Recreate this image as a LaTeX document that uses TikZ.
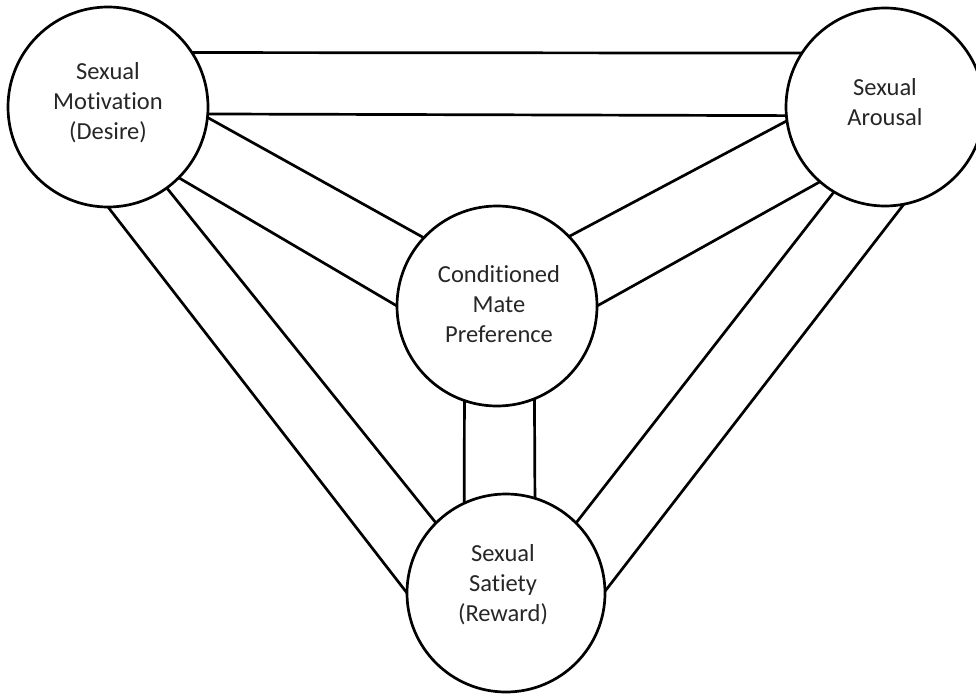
\documentclass[tikz,border=0pt]{standalone}
\usepackage{fontspec}
\setmainfont{Carlito}[Ligatures=NoCommon]
\begin{document}
\begin{tikzpicture}[x=1pt,y=-1pt,
  bubble/.style={circle,draw,line width=2.7pt,inner sep=0pt,outer sep=0pt},
  lbl/.style={align=center,font=\fontsize{24.5}{30}\selectfont,inner sep=0pt,text=black!85},
  link/.style={line width=2.7pt}]
\useasboundingbox (0,0) rectangle (976,693);
\clip (0,0) rectangle (976,693);
\node[bubble,minimum size=200pt] (tl) at (108,107) {};
\node[bubble,minimum size=198pt] (tr) at (885,107) {};
\node[bubble,minimum size=200pt] (c) at (497,306) {};
\node[bubble,minimum size=198pt] (b) at (506,593) {};
\node[lbl] (tlt) at (108,103) {Sexual\\Motivation\\(Desire)};
\node[lbl] (trt) at (885,102) {Sexual\\Arousal};
\node[lbl] (ct) at (499,304) {Conditioned\\Mate\\Preference};
\node[lbl] (bt) at (503,585) {Sexual\\Satiety\\(Reward)};
\draw[link] (tl.33) -- (tr.147);
\draw[link] (tl.-4.6) -- (tr.-175.3);
\draw[link] (tl.-6) -- (c.137.4);
\draw[link] (tl.-45.4) -- (c.180);
\draw[link] (tl.-54) -- (b.135.4);
\draw[link] (tl.-90) -- (b.180);
\draw[link] (tr.188.5) -- (c.44.2);
\draw[link] (tr.229.1) -- (c.0);
\draw[link] (tr.-121.2) -- (b.45);
\draw[link] (tr.-79.6) -- (b.1.7);
\draw[link] (c.-109.3) -- (b.115.1);
\draw[link] (c.-68.3) -- (b.73.6);
\end{tikzpicture}
\end{document}
